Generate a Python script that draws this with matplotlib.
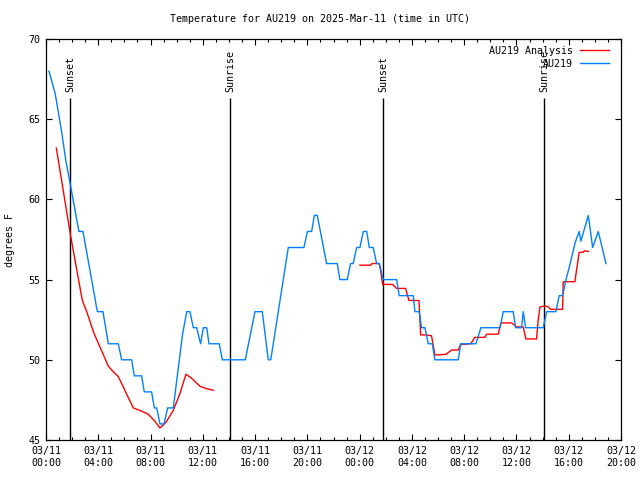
import matplotlib
matplotlib.use("Agg")
import matplotlib.pyplot as plt
from matplotlib.ticker import MultipleLocator
import numpy as np

plt.rcParams["font.family"] = ["DejaVu Sans Mono", "DejaVu Sans"]

# hours since 03/11 00:00 UTC
obs_hours = [0.23, 0.7, 1.2, 1.5, 1.89, 2.52, 2.83, 3.93, 4.36, 4.77, 5.53, 5.79,
             6.55, 6.76, 7.32, 7.52, 8.08, 8.29, 8.47, 8.72, 9.03, 9.31, 9.74,
             10.45, 10.77, 11.02, 11.27, 11.53, 11.83, 12.04, 12.3, 12.47, 13.26,
             13.49, 15.25, 15.99, 16.55, 17.01, 17.2, 18.54, 19.74, 20.0, 20.33,
             20.53, 20.76, 21.47, 22.29, 22.49, 23.05, 23.31, 23.51, 23.77, 24.02,
             24.28, 24.54, 24.74, 25.04, 25.3, 25.5, 25.81, 26.83, 27.03, 28.1,
             28.23, 28.56, 28.74, 29.0, 29.25, 29.56, 29.76, 31.55, 31.73, 32.9,
             33.28, 34.74, 34.99, 35.75, 35.94, 36.39, 36.52, 36.7, 38.05, 38.31,
             39.02, 39.27, 39.53, 39.79, 40.05, 40.49, 40.8, 40.93, 41.5, 41.83,
             42.26, 42.85]
obs_temps = [68.0, 66.6, 64.2, 62.5, 60.8, 58.0, 58.0, 53.0, 53.0, 51.0, 51.0, 50.0,
             50.0, 49.0, 49.0, 48.0, 48.0, 47.0, 47.0, 46.0, 46.0, 47.0, 47.0,
             51.6, 53.0, 53.0, 52.0, 52.0, 51.0, 52.0, 52.0, 51.0, 51.0,
             50.0, 50.0, 53.0, 53.0, 50.0, 50.0, 57.0, 57.0, 58.0, 58.0,
             59.0, 59.0, 56.0, 56.0, 55.0, 55.0, 56.0, 56.0, 57.0, 57.0,
             58.0, 58.0, 57.0, 57.0, 56.0, 56.0, 55.0, 55.0, 54.0, 54.0,
             53.0, 53.0, 52.0, 52.0, 51.0, 51.0, 50.0, 50.0, 51.0, 51.0,
             52.0, 52.0, 53.0, 53.0, 52.0, 52.0, 53.0, 52.0, 52.0, 53.0,
             53.0, 54.0, 54.0, 55.0, 55.8, 57.3, 58.0, 57.4, 59.0, 57.0,
             58.0, 56.0]

# analysis (gap between the two runs)
ana_hours = [0.79, 1.89, 2.4, 2.78, 3.16, 3.67, 4.13, 4.77, 5.1, 5.53, 5.92, 6.2,
             6.68, 7.32, 7.83, 8.3, 8.72, 9.18, 9.74, 10.25, 10.71, 11.14, 11.78,
             12.29, 12.8, np.nan,
             24.02, 24.84, 24.95, 25.5, 25.6, 25.76, 26.52, 26.83, 27.52, 27.77,
             28.54, 28.67, 29.07, 29.5, 29.76, 30.6, 31.04, 31.55, 31.73, 32.5,
             32.82, 33.59, 33.72, 34.61, 34.81, 35.63, 36.01, 36.52, 36.72, 37.54,
             37.65, 37.8, 38.18, 38.45, 38.6, 39.53, 39.58, 40.47, 40.8, 41.1,
             41.2, 41.5]
ana_temps = [63.2, 57.7, 55.4, 53.7, 52.9, 51.65, 50.8, 49.6, 49.3, 48.95, 48.3, 47.8,
             47.0, 46.8, 46.6, 46.2, 45.75, 46.1, 46.85, 47.9, 49.1, 48.85, 48.35,
             48.2, 48.1, np.nan,
             55.9, 55.9, 56.0, 56.0, 55.6, 54.7, 54.7, 54.45, 54.45, 53.7,
             53.7, 51.55, 51.55, 51.5, 50.3, 50.34, 50.61, 50.61, 50.95, 51.0,
             51.4, 51.4, 51.6, 51.6, 52.3, 52.3, 52.05, 52.05, 51.3, 51.3,
             52.4, 53.3, 53.35, 53.3, 53.15, 53.15, 54.87, 54.87, 56.7, 56.7,
             56.8, 56.75]

event_hours = [1.86, 14.1, 25.81, 38.1]
event_labels = ["Sunset", "Sunrise", "Sunset", "Sunrise"]

xtick_hours = list(range(0, 45, 4))
xtick_labels = ["03/11\n00:00", "03/11\n04:00", "03/11\n08:00", "03/11\n12:00",
                "03/11\n16:00", "03/11\n20:00", "03/12\n00:00", "03/12\n04:00",
                "03/12\n08:00", "03/12\n12:00", "03/12\n16:00", "03/12\n20:00"]

FS = 7.2
fig = plt.figure(figsize=(6.4, 4.8), dpi=100)
ax = fig.add_axes([46 / 640, 1 - 440 / 480, 575 / 640, 401 / 480])

# sunrise / sunset markers
line_top = 66.32
for h, lab in zip(event_hours, event_labels):
    ax.vlines(h, 45, line_top, color="black", linewidth=1.0, zorder=1)
    ax.text(h, line_top + 0.35, lab, rotation=90, ha="center", va="bottom",
            fontsize=FS, zorder=1)

ax.plot(ana_hours, ana_temps, color="#ff0000", linewidth=1.0, label="AU219 Analysis", zorder=2)
ax.plot(obs_hours, obs_temps, color="#0080ff", linewidth=1.0, label="AU219", zorder=3)

ax.set_xlim(0, 44)
ax.set_ylim(45, 70)
ax.set_xticks(xtick_hours)
ax.set_xticklabels(xtick_labels, linespacing=1.35)
ax.xaxis.set_minor_locator(MultipleLocator(1))
ax.yaxis.set_major_locator(MultipleLocator(5))
ax.tick_params(which="both", direction="in", top=True, right=True,
               labelsize=FS, width=0.8, pad=4)
ax.tick_params(which="major", length=4.5)
ax.tick_params(which="minor", length=2.5)
for s in ax.spines.values():
    s.set_linewidth(0.9)

ax.legend(loc="upper right", bbox_to_anchor=(1 - 4 / 575, 1 + 1 / 401),
          frameon=False, markerfirst=False, fontsize=FS,
          handlelength=2.9, handletextpad=0.7, labelspacing=0.3,
          borderaxespad=0.4)

fig.text(0.5, 1 - 19 / 480, "Temperature for AU219 on 2025-Mar-11 (time in UTC)",
         ha="center", va="center", fontsize=FS)
fig.text(10 / 640, 1 - 240 / 480, "degrees F", rotation=90, ha="center",
         va="center", fontsize=FS)

fig.savefig("out.png", dpi=100, facecolor="white")
